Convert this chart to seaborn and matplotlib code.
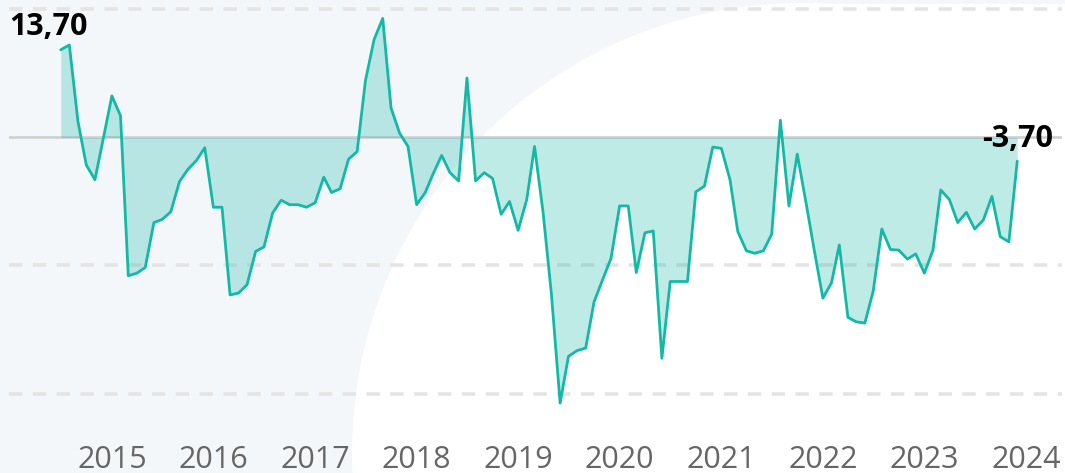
import pandas as pd
import matplotlib
matplotlib.use("Agg")
import matplotlib.pyplot as plt
from matplotlib.patches import Circle, Rectangle
import seaborn as sns

# ----------- Data (monthly values) ------------------------------------

months = pd.date_range("2014-07-01", "2023-12-01", freq="MS")

values = [
    13.7, 14.45, 2.5, -4.3, -6.6, -0.2, 6.5, 3.4, -21.6, -21.2, -20.3, -13.3,
    -12.8, -11.6, -6.9, -5.0, -3.6, -1.6, -10.9, -10.9, -24.6, -24.3, -23.0, -17.8,
    -17.1, -11.8, -9.8, -10.5, -10.5, -10.9, -10.2, -6.2, -8.6, -8.0, -3.4, -2.2,
    8.9, 15.3, 18.6, 4.6, 0.65, -1.4, -10.5, -8.6, -5.7, -2.8, -5.5, -6.8,
    9.3, -6.8, -5.5, -6.4, -12.0, -10.0, -14.5, -9.7, -1.4, -11.8, -24.6, -41.5,
    -34.2, -33.3, -32.9, -25.7, -22.2, -18.9, -10.7, -10.7, -21.1, -14.9, -14.6, -34.5,
    -22.5, -22.5, -22.5, -8.5, -7.6, -1.5, -1.7, -6.6, -14.7, -17.7, -18.1, -17.7,
    -15.1, 2.7, -10.7, -2.6, -10.1, -17.6, -25.1, -22.7, -16.8, -28.1, -28.8, -29.0,
    -24.0, -14.3, -17.5, -17.6, -19.0, -18.2, -21.2, -17.6, -8.2, -9.7, -13.3, -11.7,
    -14.3, -12.9, -9.2, -15.5, -16.3, -3.7,
]

first_label = "13,70"
last_label = "-3,70"
year_ticks = [str(y) for y in range(2015, 2025)]

df = pd.DataFrame({"month": months, "value": values})

# ----------- Style ---------------

sns.set_style("white")
plt.rcParams["font.family"] = ["Open Sans", "DejaVu Sans"]

line_color = "#14b8a6"
grid_color = "#e4e4e4"

fig = plt.figure(figsize=(10.65, 4.73), dpi=100)

# decorative background (pixel coordinates): pale panel with a white circle
bg = fig.add_axes([0, 0, 1, 1], zorder=-1)
bg.set_xlim(0, 1065)
bg.set_ylim(473, 0)
bg.axis("off")
bg.add_patch(Rectangle((0, 0), 1065, 473, facecolor="#f4f7fa", edgecolor="none"))
bg.add_patch(Circle((802, 453), 450, facecolor="white", edgecolor="none"))
bg.add_patch(Rectangle((802, 4), 270, 470, facecolor="white", edgecolor="none"))

ax = fig.add_axes([9 / 1065, 53 / 473, (1062 - 9) / 1065, 420 / 473])
ax.set_facecolor("none")

# ----------- Plot ---------------

ax.fill_between(df["month"], df["value"], 0, color=line_color, alpha=0.27,
                linewidth=0, zorder=2)
sns.lineplot(data=df, x="month", y="value", ax=ax, color=line_color,
             linewidth=2.0, zorder=3)

for g in [20, -20, -40]:
    ax.axhline(g, color=grid_color, linewidth=2.6, linestyle=(0, (3.7, 2.9)), zorder=1)
ax.axhline(0, color="#cfcfcf", linewidth=1.9, zorder=1)

ax.annotate(first_label, xy=(df["month"].iloc[0], values[0]),
            xytext=(-51, 8), textcoords="offset pixels",
            ha="left", va="bottom", fontsize=22, fontweight="bold", color="black")
ax.annotate(last_label, xy=(df["month"].iloc[-1], values[-1]),
            xytext=(0, 7), textcoords="offset pixels",
            ha="center", va="bottom", fontsize=22, fontweight="bold", color="black")

# ----------- Axes ---------------

ax.set_xlim(months[0] - pd.Timedelta(days=186), months[-1] + pd.Timedelta(days=161))
ax.set_ylim(-44.14, 21.48)

ax.set_xticks(pd.to_datetime([f"{y}-01-01" for y in year_ticks]))
ax.set_xticklabels(year_ticks)
ax.tick_params(axis="x", length=5, width=1, color="#eeeeee", labelsize=22,
               labelcolor="#666666", pad=13)
ax.set_yticks([])
ax.set_xlabel("")
ax.set_ylabel("")
sns.despine(ax=ax, left=True, bottom=True)

fig.savefig("out.png", dpi=100)
